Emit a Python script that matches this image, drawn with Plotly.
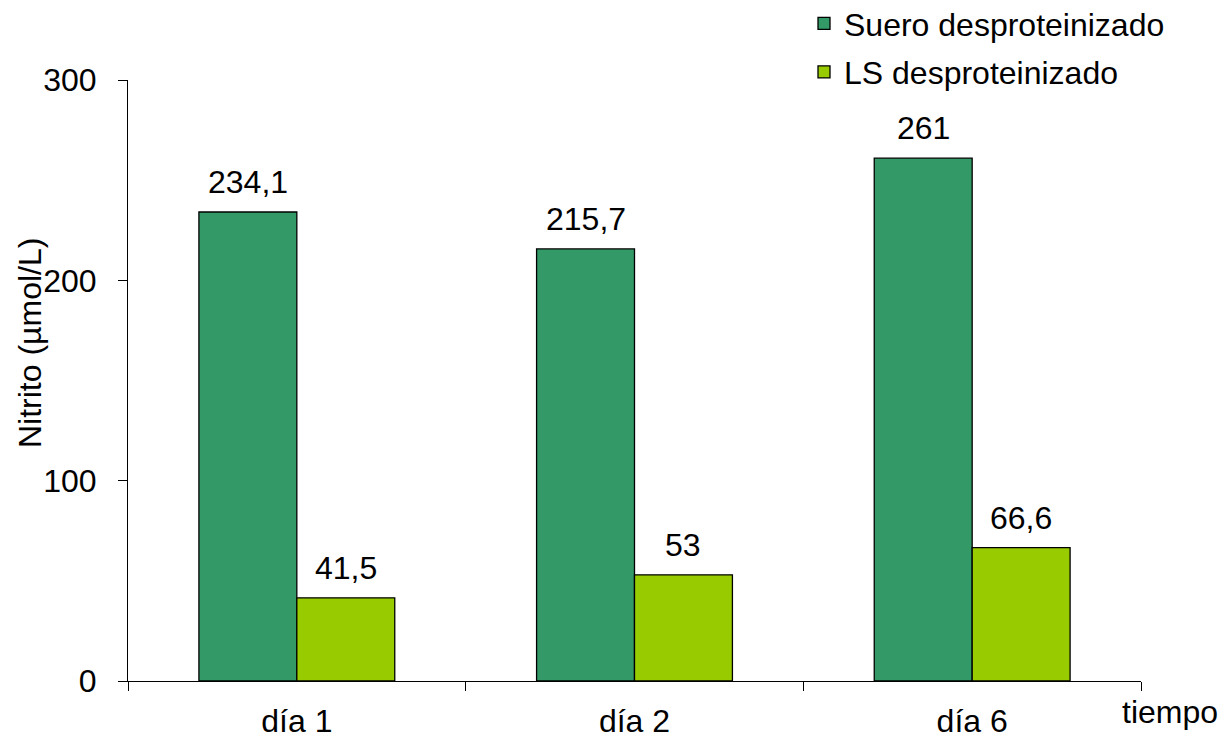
import plotly.graph_objects as go

dias = ["día 1", "día 2", "día 6"]
suero = [234.1, 215.7, 261]
ls = [41.5, 53, 66.6]
y_ticks = [0, 100, 200, 300]

FONT = "Liberation Sans, Arial, sans-serif"
TXT = 32
BARGAP = 0.42
half = (1 - BARGAP) / 4  # half width of one bar in category units

fig = go.Figure()
fig.add_trace(go.Bar(name="Suero desproteinizado", x=dias, y=suero, legendgroup="a",
                     marker=dict(color="#339966", line=dict(color="#000000", width=1.3))))
fig.add_trace(go.Bar(name="LS desproteinizado", x=dias, y=ls, legendgroup="b",
                     marker=dict(color="#99CC00", line=dict(color="#000000", width=1.3))))


def fmt(v):
    return f"{v:g}".replace(".", ",")


annotations = []
for i, (a, b) in enumerate(zip(suero, ls)):
    for off, v in ((-half, a), (half, b)):
        annotations.append(dict(x=i + off, y=v, xref="x", yref="y", text=fmt(v),
                                showarrow=False, yanchor="bottom", yshift=10,
                                font=dict(family=FONT, size=TXT, color="#000")))

annotations.append(dict(x=(1120 - 128) / 1013, y=(681 - 712) / 601, xref="paper", yref="paper",
                        text="tiempo", showarrow=False, xanchor="left", yanchor="middle",
                        font=dict(family=FONT, size=TXT, color="#000")))
annotations.append(dict(x=(30 - 128) / 1013, y=1 - (343 - 80) / 601, xref="paper", yref="paper",
                        text="Nitrito (µmol/L)", textangle=-90, showarrow=False,
                        xanchor="center", yanchor="middle",
                        font=dict(family=FONT, size=TXT, color="#000")))

fig.update_layout(
    width=1232, height=742,
    margin=dict(l=128, r=91, t=80, b=61, pad=0, autoexpand=False),
    paper_bgcolor="white", plot_bgcolor="white",
    barmode="group", bargap=BARGAP, bargroupgap=0,
    font=dict(family=FONT, size=TXT, color="#000"),
    showlegend=True,
    legend=dict(x=(804 - 128) / 1013, y=1 + (80 + 4) / 601, xanchor="left", yanchor="top",
                bgcolor="rgba(0,0,0,0)", font=dict(family=FONT, size=TXT, color="#000"),
                itemwidth=30, traceorder="grouped", tracegroupgap=4),
    annotations=annotations,
)
fig.update_xaxes(showline=True, linecolor="#000", linewidth=1, showgrid=False,
                 ticks="outside", tickson="boundaries", ticklen=9, tickcolor="#000",
                 tickfont=dict(family=FONT, size=TXT, color="#000"), ticklabelstandoff=12)
fig.update_yaxes(range=[0, 300], tickvals=y_ticks, showline=True, linecolor="#000", linewidth=1,
                 showgrid=False, zeroline=False, ticks="outside", ticklen=9, tickcolor="#000",
                 tickfont=dict(family=FONT, size=TXT, color="#000"), ticklabelstandoff=15)

fig.write_html("out.html")
